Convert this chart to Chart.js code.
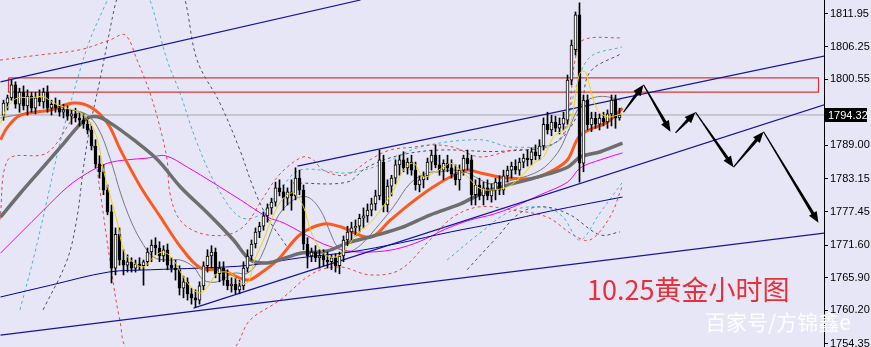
<!DOCTYPE html>
<html><head><meta charset="utf-8">
<script src="https://cdn.jsdelivr.net/npm/chart.js@4.4.1/dist/chart.umd.min.js"></script>
<style>
html,body{margin:0;padding:0;background:#E6E6F7;}
#wrap{position:relative;width:871px;height:347px;overflow:hidden;background:#E6E6F7;}
#title{position:absolute;left:587px;top:275px;font-family:"Noto Sans CJK SC",sans-serif;font-size:27px;line-height:1;color:#E8303A;white-space:nowrap;}
#wm{position:absolute;left:705px;top:311px;font-family:"Noto Sans CJK SC",sans-serif;font-size:21px;line-height:1;color:rgba(255,255,255,0.92);white-space:nowrap;}
</style></head>
<body><div id="wrap"><canvas id="c" width="871" height="347"></canvas>
<div id="title">10.25黄金小时图</div><div id="wm">百家号/方锦鑫e</div></div>
<script>
// ---- candles (hourly XAUUSD) ----
const open = [1794.3,1796.4,1797.3,1799.6,1796.2,1798.3,1795.9,1797.6,1795.5,1797.3,
1796.6,1798.3,1795.5,1796.2,1795.5,1794.8,1795.2,1794.1,1794.5,1793.8,
1793.4,1792.7,1791.7,1788.9,1785.8,1784.4,1781.2,1777.4,1767.6,1773.5,
1769.0,1768.1,1768.7,1767.6,1768.3,1768.0,1768.7,1770.4,1771.6,1771.1,
1769.7,1770.8,1768.1,1767.6,1767.3,1764.1,1765.2,1763.1,1762.4,1762.0,
1764.5,1768.0,1769.7,1770.4,1766.6,1767.6,1765.5,1764.5,1764.8,1763.8,
1764.5,1767.6,1769.7,1771.8,1773.9,1774.9,1776.7,1778.1,1779.1,1781.6,
1780.9,1779.8,1780.9,1780.2,1783.3,1781.2,1771.8,1769.7,1770.4,1769.4,
1769.7,1769.0,1768.7,1769.4,1768.0,1769.7,1772.5,1773.9,1774.6,1774.9,
1776.3,1776.7,1777.7,1778.8,1780.2,1786.1,1778.6,1781.9,1783.3,1785.6,
1786.5,1785.1,1786.1,1784.7,1782.1,1783.0,1783.7,1786.1,1787.3,1785.6,
1784.7,1785.9,1785.1,1784.0,1783.0,1784.7,1786.8,1786.5,1780.4,1782.1,
1780.2,1781.6,1780.2,1781.2,1782.6,1781.2,1783.7,1784.7,1785.4,1784.7,
1786.1,1786.8,1786.5,1787.9,1787.2,1788.9,1792.7,1791.7,1793.1,1792.0,
1792.7,1793.4,1800.4,1805.7,1811.8,1785.9,1796.9,1792.6,1793.8,1792.7,
1793.8,1793.1,1794.5,1796.9,1793.8];
const high = [1796.9,1797.8,1800.4,1800.1,1799.0,1799.4,1798.7,1798.3,1798.3,1798.7,
1799.0,1799.4,1796.9,1797.3,1796.9,1796.2,1795.9,1795.2,1795.5,1794.8,
1794.5,1793.8,1792.4,1790.0,1787.2,1785.6,1782.1,1778.6,1774.6,1774.6,
1770.8,1769.9,1769.4,1769.0,1769.4,1769.0,1771.1,1772.5,1772.9,1772.2,
1771.5,1771.8,1769.4,1769.0,1768.0,1766.2,1765.9,1764.1,1763.8,1765.2,
1768.7,1770.8,1771.5,1771.1,1768.7,1768.7,1767.3,1765.9,1765.9,1765.5,
1768.7,1770.8,1772.5,1774.6,1775.6,1777.4,1778.8,1779.8,1782.6,1783.0,
1782.1,1781.6,1783.0,1785.1,1784.7,1782.1,1772.9,1771.1,1771.5,1770.8,
1770.8,1770.4,1769.9,1770.1,1770.4,1773.2,1774.9,1775.6,1776.0,1777.0,
1778.1,1778.8,1779.8,1781.2,1788.2,1787.3,1783.0,1783.8,1786.5,1787.3,
1787.9,1786.8,1787.3,1786.1,1783.7,1784.4,1786.8,1788.2,1789.1,1787.3,
1786.5,1787.3,1786.5,1785.6,1785.6,1787.3,1788.2,1787.3,1783.0,1783.3,
1782.6,1783.0,1782.3,1783.3,1783.7,1784.7,1785.4,1786.1,1786.5,1786.8,
1787.5,1788.2,1788.6,1789.1,1790.0,1793.8,1794.8,1794.3,1794.1,1793.8,
1794.8,1801.3,1807.4,1812.3,1813.9,1797.8,1797.8,1794.8,1794.8,1794.5,
1794.8,1795.2,1797.8,1797.8,1795.5];
const low = [1793.4,1795.2,1796.9,1795.5,1794.8,1795.2,1794.3,1794.8,1794.5,1795.9,
1795.5,1794.8,1794.3,1794.8,1794.1,1793.8,1793.4,1792.7,1793.1,1792.4,
1792.0,1791.0,1788.2,1785.1,1783.3,1780.4,1776.9,1765.0,1766.4,1768.1,
1766.4,1766.9,1766.9,1766.9,1767.3,1764.6,1768.0,1768.7,1769.9,1768.7,
1768.7,1767.3,1766.9,1765.5,1762.9,1762.4,1762.0,1761.3,1760.8,1761.3,
1763.8,1766.9,1767.6,1765.9,1765.2,1764.6,1763.8,1763.4,1763.1,1763.1,
1763.8,1766.9,1769.0,1771.1,1772.9,1774.2,1775.6,1777.0,1778.4,1780.2,
1777.7,1778.6,1777.7,1779.5,1780.4,1770.8,1767.6,1768.7,1768.7,1767.6,
1768.0,1767.6,1767.3,1766.9,1766.6,1768.7,1771.5,1772.5,1773.2,1773.9,
1774.6,1775.6,1776.7,1777.7,1779.5,1777.4,1777.4,1780.2,1782.3,1783.8,
1784.4,1784.0,1783.8,1781.2,1780.9,1781.6,1783.0,1784.7,1785.1,1783.8,
1783.0,1784.4,1783.3,1782.1,1781.2,1783.8,1784.7,1778.6,1778.6,1779.5,
1778.6,1779.5,1779.1,1779.5,1780.4,1780.4,1782.6,1783.3,1784.0,1783.8,
1785.1,1785.4,1785.6,1786.5,1786.5,1788.2,1791.0,1790.7,1791.4,1791.0,
1791.7,1792.7,1799.6,1804.8,1782.6,1784.4,1791.7,1791.4,1792.0,1791.7,
1792.4,1792.0,1792.4,1792.0,1793.4];
const close = [1796.4,1797.3,1799.6,1796.2,1798.3,1795.9,1797.6,1795.5,1797.3,1796.6,
1798.3,1795.5,1796.2,1795.5,1794.8,1795.2,1794.1,1794.5,1793.8,1793.4,
1792.7,1791.7,1788.9,1785.8,1784.4,1781.2,1777.4,1767.6,1773.5,1769.0,
1768.1,1768.7,1767.6,1768.3,1768.0,1768.7,1770.4,1771.6,1771.1,1769.7,
1770.8,1768.1,1767.6,1767.3,1764.1,1765.2,1763.1,1762.4,1762.0,1764.5,
1768.0,1769.7,1770.4,1766.6,1767.6,1765.5,1764.5,1764.8,1763.8,1764.5,
1767.6,1769.7,1771.8,1773.9,1774.9,1776.7,1778.1,1779.1,1781.6,1780.9,
1779.8,1780.9,1780.2,1783.3,1781.2,1771.8,1769.7,1770.4,1769.4,1769.7,
1769.0,1768.7,1769.4,1768.0,1769.7,1772.5,1773.9,1774.6,1774.9,1776.3,
1776.7,1777.7,1778.8,1780.2,1786.5,1778.6,1781.9,1783.3,1785.6,1786.5,
1785.1,1786.1,1784.7,1782.1,1783.0,1783.7,1786.1,1787.3,1785.6,1784.7,
1785.9,1785.1,1784.0,1783.0,1784.7,1786.8,1785.8,1780.4,1782.1,1780.2,
1781.6,1780.2,1781.2,1782.6,1781.2,1783.7,1784.7,1785.4,1784.7,1786.1,
1786.8,1786.5,1787.9,1787.2,1788.9,1792.7,1791.7,1793.1,1792.0,1792.7,
1793.8,1800.4,1806.5,1811.8,1785.9,1796.9,1792.6,1793.8,1792.7,1793.8,
1793.1,1794.5,1796.9,1793.8,1794.32];

// ---- price axis ----
const tickLabels = [1811.95,1806.25,1800.55,1789.00,1783.15,1777.45,1771.60,1765.90,1760.20,1754.35];
const lastPrice = 1794.32;
const yMax = 1814.39, yMin = 1753.82;
const barsTotal = 205.125; // bar slots incl. right shift

// ---- moving averages: [bar index, price] ----
const maYellow = [[-0.75,1792.9],[1,1795.7],[3.5,1797.3],[6.75,1797.3],[10,1797.5],[12.5,1796.4],[16,1795.5],[19.25,1794.7],[21.75,1792.9],[23.5,1790.0],[25,1784.7],[26.75,1780.0],[28.5,1775.5],[30,1770.8],[31.75,1769.0],[35,1767.8],[37.5,1769.5],[40,1770.4],[42.5,1769.0],[45,1766.0],[47.5,1763.8],[49.25,1763.25],[51,1764.3],[53.5,1766.7],[56.75,1766.7],[59.25,1765.0],[61.25,1765.2],[62.5,1768.5],[65,1772.5],[67.5,1776.9],[70,1779.8],[72.5,1780.7],[75,1778.3],[76.75,1774.2],[79.25,1770.8],[81.75,1769.5],[84.25,1769.9],[86,1771.3],[88.5,1773.7],[91.75,1775.6],[94.25,1777.7],[97.5,1781.2],[100,1784.7],[102.5,1785.9],[105,1783.5],[107.5,1784.2],[110,1785.2],[111.75,1785.9],[114.25,1784.7],[116.75,1783.0],[118.5,1781.75],[121,1781.2],[126,1781.75],[129.25,1783.5],[132.5,1785.9],[135,1787.0],[137.5,1790.5],[140,1791.7],[141.75,1792.9],[143.5,1799.9],[144.25,1801.8],[145.5,1801.8],[146.75,1798.7],[148.5,1795.2],[151,1794.0],[153.5,1794.3],[154.75,1794.7]];
const maGrayThin = [[-0.75,1793.8],[11.75,1795.2],[20,1794.7],[23.5,1792.2],[26.75,1786.5],[29.25,1780.7],[31.75,1776.0],[34.25,1772.5],[37.5,1769.5],[41,1769.0],[44.25,1769.0],[47.5,1767.8],[50,1765.5],[53.5,1765.2],[57.5,1766.7],[61,1766.7],[64.25,1769.4],[68.5,1776.5],[72.5,1779.5],[76,1780.0],[79.25,1777.7],[81.75,1773.7],[83.5,1771.3],[86,1770.4],[89.25,1771.6],[94.25,1775.5],[97.5,1778.3],[101.75,1782.45],[106,1784.2],[109.25,1784.4],[112.5,1784.7],[116,1784.2],[119.25,1783.0],[121.75,1782.3],[127.5,1783.0],[134.25,1784.7],[138.5,1787.7],[141,1791.2],[143.5,1795.2],[146,1796.9],[148.5,1797.5],[151,1797.5],[154.25,1796.9]];
const maOrange = [[-0.75,1790.0],[1,1792.2],[4.25,1794.3],[11.75,1795.2],[17.5,1796.4],[21.75,1795.7],[26,1792.9],[29.25,1788.2],[34.25,1781.8],[39.25,1776.5],[44.25,1771.3],[49.25,1767.6],[54.25,1767.3],[61,1765.5],[64.25,1766.7],[68.5,1769.0],[74.25,1773.5],[80,1775.3],[84.25,1774.8],[91.75,1773.0],[96.75,1776.0],[101.75,1778.9],[107.5,1781.8],[112.5,1783.8],[116,1784.7],[119.25,1784.2],[126,1783.3],[132.5,1783.3],[137.5,1784.7],[141,1786.5],[144.25,1790.8],[151,1793.1],[154.75,1795.5]];
const maDarkGray = [[-0.75,1776.5],[4.25,1780.7],[9.25,1784.7],[14.25,1788.7],[18.5,1792.2],[21,1793.8],[23.5,1794.0],[26.75,1792.9],[32.5,1790.0],[38.5,1786.5],[44.25,1781.75],[51,1777.2],[57.5,1772.5],[61.75,1769.0],[66,1768.5],[71,1769.5],[74.25,1770.2],[81,1770.6],[86,1772.0],[92.5,1773.2],[99.25,1774.6],[106.75,1776.9],[114.25,1778.8],[119.25,1780.5],[124.25,1781.75],[131,1783.0],[136,1784.0],[141,1785.2],[144.25,1787.0],[149.25,1787.9],[154.75,1789.4]];
const maMagenta = [[-0.75,1770.2],[4.25,1773.7],[10,1777.7],[16,1781.75],[21,1784.2],[26,1785.9],[31,1786.5],[36,1786.8],[40.5,1787.2],[46,1785.2],[52.5,1782.45],[59.25,1779.5],[66,1776.5],[70,1775.5],[74.25,1773.9],[80,1771.8],[86,1770.6],[91.75,1770.4],[98,1770.9],[104.25,1772.3],[110.5,1774.4],[116.75,1776.0],[122.5,1777.0],[127.5,1778.3],[134.25,1780.4],[141,1782.6],[144.25,1785.1],[149.25,1786.5],[154.75,1787.7]];
const maNavy = [[-0.75,1762.55],[11.75,1764.6],[26.25,1766.9],[36.75,1767.3],[49.25,1767.6],[61.75,1768.1],[74.25,1769.4],[86.75,1770.4],[99.25,1772.0],[111.75,1773.9],[124.25,1775.6],[136.75,1777.55],[154.75,1780.0]];

// ---- bands (dashed) ----
const bandRedUpper = [[-0.9,1803.9],[9.1,1804.8],[19.1,1805.7],[26.6,1807.4],[30.4,1808.3],[33.4,1803.9],[36.6,1798.2],[39.1,1792.2],[40.9,1786.5],[41.6,1780.7],[44.1,1776.0],[49.1,1773.7],[55.9,1773.4],[60.4,1775.1],[64.6,1779.5],[67.9,1783.0],[70.9,1785.2],[74.9,1787.0],[77.4,1786.5],[79.9,1784.7],[85.4,1783.8],[91.6,1786.5],[96.6,1788.2],[102.4,1788.7],[107.4,1789.1],[112.4,1788.7],[119.1,1787.0],[127.4,1788.2],[135.9,1788.7],[140.4,1791.7],[142.9,1803.9],[144.9,1807.4],[154.6,1807.8]];
const bandRedLower = [[-0.9,1776.0],[1.1,1786.5],[10.9,1787.7],[19.1,1794.8],[22.1,1790.0],[24.1,1781.2],[26.6,1769.0],[29.1,1758.5],[31.6,1753.3],[56.6,1753.3],[61.6,1758.5],[69.1,1762.0],[77.4,1766.7],[84.1,1767.8],[91.6,1766.4],[99.1,1767.3],[106.6,1772.5],[112.4,1776.5],[119.1,1778.3],[127.4,1777.7],[135.9,1776.5],[142.4,1773.4],[146.6,1772.5],[151.6,1776.5],[154.6,1781.75]];
const bandCyanA = [[4.1,1760.3],[7.4,1769.0],[10.9,1779.5],[14.1,1789.4],[18.4,1800.4],[21.6,1807.4],[25.4,1813.5],[27,1816]];
const bandCyanB = [[35,1816],[36.6,1814.4],[40.9,1803.9],[44.1,1798.2],[48.4,1789.4],[53.4,1781.75],[59.1,1776.5],[64.1,1776.9],[69.1,1781.2],[74.1,1784.7],[85.9,1784.2],[94.1,1785.6],[104.1,1788.7],[119.1,1790.0],[127.4,1788.7],[139.1,1790.0],[142.9,1798.7],[146.6,1804.4],[154.6,1806.2]];
const bandCyanLow = [[110.9,1769.0],[119.1,1773.7],[127.4,1777.7],[135.9,1778.1],[139.9,1776.5],[144.1,1772.5],[149.1,1777.2],[154.6,1782.45]];
const bandGrayA = [[9.9,1760.3],[15.9,1769.0],[18.4,1776.5],[19.9,1784.7],[21.6,1792.2],[24.1,1800.4],[26.1,1807.4],[27.9,1813.5],[29,1816]];
const bandGrayB = [[44,1816],[45.4,1814.4],[48.4,1803.9],[54.1,1796.4],[59.1,1788.2],[62.4,1781.75],[65.9,1776.5],[70.9,1771.3]];
const bandGrayMid = [[72.4,1782.45],[85.9,1782.6],[90.9,1785.2],[99.1,1787.3],[109.1,1788.2],[125,1788.0],[138,1789.5],[144.1,1795.2],[146.6,1801.8],[154.6,1805.1]];
const bandGrayLow = [[115.9,1767.3],[123.4,1773.0],[129.1,1777.2],[134.9,1778.3],[141.6,1776.9],[149.1,1773.4],[154.1,1773.9]];

// ---- drawn objects ----
const trendTop = [[-0.75,1800.1],[89.25,1814.39]];
const channelUpper = [[73.5,1785.4],[205.25,1804.6]];
const channelLower = [[47.5,1760.6],[205.25,1796.1]];
const supportLong = [[-0.75,1755.9],[205.25,1773.7]];
const resistBox = [[1.25,1800.8],[203.75,1800.8],[203.75,1798.3],[1.25,1798.3],[1.25,1800.8]];
const forecastPath = [[155,1794.8],[160,1799.6],[166.75,1791.4],[168,1791.2],[173,1794.8],[182.5,1785.2],[190,1791.4],[203.75,1775.5]];
const arrowSegments = [[0,1],[1,2],[3,4],[4,5],[5,6],[6,7]];

const xy = a => a.map(p => ({x:p[0], y:p[1]}));
const line = (data, color, width, dash, order) => ({type:'line', data:xy(data), borderColor:color, borderWidth:width, borderDash:dash||[], pointRadius:0, tension:0.35, fill:false, order:order||5});
const straight = (data, color, width, order) => ({type:'line', data:xy(data), borderColor:color, borderWidth:width, pointRadius:0, tension:0, fill:false, order:order||3});

const idx = close.map((_, i) => i);
const wickData = idx.map(i => ({x:i, y:[low[i], high[i]]}));
const bodyData = idx.map(i => ({x:i, y:[open[i], close[i]]}));
const bodyColors = idx.map(i => close[i] >= open[i] ? '#FFFFFF' : '#000000');

const overlay = {
  id:'overlay',
  afterDatasetsDraw(chart){
    const {ctx, scales:{x, y}, chartArea:ca} = chart;
    ctx.save();
    ctx.beginPath(); ctx.rect(ca.left, ca.top, ca.right-ca.left, ca.bottom-ca.top); ctx.clip();
    ctx.strokeStyle = '#000'; ctx.fillStyle = '#000';
    arrowSegments.forEach(([a,b]) => {
      const x1 = x.getPixelForValue(forecastPath[a][0]), y1 = y.getPixelForValue(forecastPath[a][1]);
      const x2 = x.getPixelForValue(forecastPath[b][0]), y2 = y.getPixelForValue(forecastPath[b][1]);
      const ang = Math.atan2(y2-y1, x2-x1);
      const ux = Math.cos(ang), uy = Math.sin(ang), nx = -uy, ny = ux;
      const head = 11, hw = 4.5;
      const bx = x2 - ux*head, by = y2 - uy*head;
      ctx.beginPath();
      ctx.moveTo(x1 + nx*0.6, y1 + ny*0.6);
      ctx.lineTo(bx + nx*1.6, by + ny*1.6);
      ctx.lineTo(bx + nx*hw, by + ny*hw);
      ctx.lineTo(x2, y2);
      ctx.lineTo(bx - nx*hw, by - ny*hw);
      ctx.lineTo(bx - nx*1.6, by - ny*1.6);
      ctx.lineTo(x1 - nx*0.6, y1 - ny*0.6);
      ctx.closePath(); ctx.fill();
    });
    ctx.restore();
    const py = Math.round(y.getPixelForValue(lastPrice));
    ctx.save();
    ctx.fillStyle = '#000';
    ctx.fillRect(ca.right+1, py-7, 42, 14);
    ctx.fillStyle = '#fff';
    ctx.font = '11px "Liberation Sans", Arial, sans-serif';
    ctx.textBaseline = 'middle';
    ctx.fillText(lastPrice.toFixed(2), ca.right+4, py+0.5);
    ctx.restore();
  }
};

new Chart(document.getElementById('c'), {
  data: {
    datasets: [
      straight([[-1, lastPrice],[barsTotal, lastPrice]], '#A8A8A8', 1, 9),
      line(bandRedUpper, '#E04848', 1, [3,3], 8),
      line(bandRedLower, '#E04848', 1, [3,3], 8),
      line(bandCyanA, '#48B4C4', 1, [3,3], 8),
      line(bandCyanB, '#48B4C4', 1, [3,3], 8),
      line(bandCyanLow, '#48B4C4', 1, [3,3], 8),
      line(bandGrayA, '#505060', 1, [3,3], 8),
      line(bandGrayB, '#505060', 1, [3,3], 8),
      line(bandGrayMid, '#505060', 1, [3,3], 8),
      line(bandGrayLow, '#505060', 1, [3,3], 8),
      line(maNavy, '#0000A0', 1, null, 7),
      line(maMagenta, '#F000F0', 1, null, 7),
      line(maGrayThin, '#7A7A7A', 1, null, 7),
      line(maDarkGray, '#6E6E6E', 3.5, null, 6),
      line(maOrange, '#FF5A1E', 3, null, 6),
      straight(trendTop, '#1414A0', 1.2, 4),
      straight(channelUpper, '#1414A0', 1.2, 4),
      straight(channelLower, '#1414A0', 1.2, 4),
      straight(supportLong, '#1414A0', 1.2, 4),
      straight(resistBox, '#E03434', 1.2, 4),
      {type:'bar', data:wickData, backgroundColor:'#000', borderWidth:0, barThickness:1, grouped:false, order:3},
      {type:'bar', data:bodyData, backgroundColor:bodyColors, borderColor:'#000', borderWidth:1, borderSkipped:false, barThickness:3, grouped:false, order:2},
      line(maYellow, '#F2D200', 1, null, 1)
    ]
  },
  options: {
    responsive:false, animation:false, devicePixelRatio:1,
    layout:{padding:0},
    plugins:{legend:{display:false}, tooltip:{enabled:false}},
    scales:{
      x:{type:'linear', display:false, offset:false, min:-0.875, max:barsTotal},
      y:{type:'linear', position:'right', min:yMin, max:yMax,
        afterBuildTicks(s){ s.ticks = tickLabels.map(v => ({value:v})); },
        afterFit(s){ s.width = 47; s.paddingTop = 0; s.paddingBottom = 0; },
        ticks:{callback:v => Number(v).toFixed(2), color:'#000', padding:2, font:{family:'"Liberation Sans", Arial, sans-serif', size:11}},
        grid:{drawOnChartArea:false, drawTicks:true, tickLength:4, color:'#000'},
        border:{display:true, color:'#000', width:1}
      }
    }
  },
  plugins:[overlay]
});
</script></body></html>
